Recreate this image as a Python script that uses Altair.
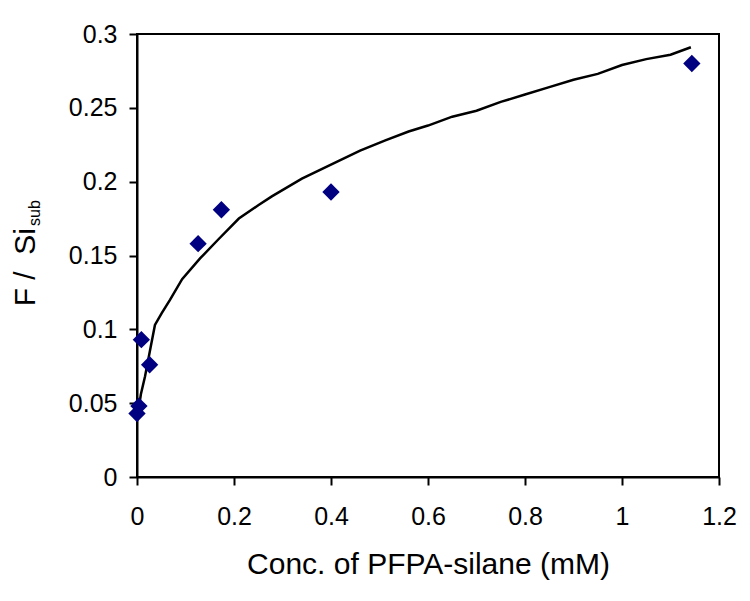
import altair as alt
import pandas as pd

# measured data points
pts_x = [0.0, 0.004, 0.009, 0.026, 0.126, 0.174, 0.40, 1.144]
pts_y = [0.043, 0.048, 0.093, 0.076, 0.158, 0.181, 0.193, 0.280]

# fitted curve
curve_x = [0.002, 0.008, 0.0165, 0.027, 0.037, 0.051, 0.068, 0.093, 0.13, 0.168,
           0.21, 0.25, 0.278, 0.34, 0.416, 0.46, 0.512, 0.56, 0.6, 0.65,
           0.7, 0.75, 0.8, 0.85, 0.9, 0.95, 1.0, 1.05, 1.1, 1.142]
curve_y = [0.043, 0.056, 0.068, 0.086, 0.103, 0.111, 0.120, 0.134, 0.148, 0.161,
           0.175, 0.184, 0.190, 0.202, 0.214, 0.221, 0.228, 0.234, 0.238, 0.244,
           0.248, 0.254, 0.259, 0.264, 0.269, 0.273, 0.279, 0.283, 0.286, 0.291]

x_ticks = [0, 0.2, 0.4, 0.6, 0.8, 1.0, 1.2]
y_ticks = [0, 0.05, 0.1, 0.15, 0.2, 0.25, 0.3]

pts = pd.DataFrame({"x": pts_x, "y": pts_y})
curve = pd.DataFrame({"x": curve_x, "y": curve_y})

FONT = "Liberation Sans"

xenc = alt.X("x:Q", scale=alt.Scale(domain=[0, 1.2], nice=False, zero=False),
             axis=alt.Axis(values=x_ticks, format="~g", title="Conc. of PFPA-silane (mM)",
                           grid=False, domainColor="black", domainWidth=2,
                           tickColor="black", tickWidth=2, tickSize=8,
                           labelFontSize=25, labelPadding=19, labelColor="black",
                           labelFlush=False, labelOverlap=False,
                           labelFont=FONT, titleFont=FONT, titleFontSize=30,
                           titleFontWeight="normal", titleColor="black", titlePadding=20))
yenc = alt.Y("y:Q", scale=alt.Scale(domain=[0, 0.3], nice=False, zero=False),
             axis=alt.Axis(values=y_ticks, format="~g", title=None,
                           grid=False, domainColor="black", domainWidth=2,
                           tickColor="black", tickWidth=2, tickSize=8,
                           labelFontSize=25, labelPadding=12, labelColor="black",
                           labelFlush=False, labelOverlap=False,
                           labelFont=FONT))

line = alt.Chart(curve).mark_line(color="black", strokeWidth=2.5).encode(x=xenc, y=yenc, order="x:Q")
points = alt.Chart(pts).mark_point(shape="diamond", filled=True, color="#000080",
                                   size=300, opacity=1).encode(x="x:Q", y="y:Q")

t1 = alt.Chart(pd.DataFrame({"t": ["F\u00a0/\u00a0\u00a0Si"]})).mark_text(
    angle=270, align="right", baseline="alphabetic", font=FONT, fontSize=30, color="black"
).encode(text="t:N", x=alt.value(-102), y=alt.value(194))
t2 = alt.Chart(pd.DataFrame({"t": ["sub"]})).mark_text(
    angle=270, align="left", baseline="alphabetic", font=FONT, fontSize=16, color="black"
).encode(text="t:N", x=alt.value(-97), y=alt.value(192))

chart = alt.layer(line, points, t1, t2).properties(
    width=582, height=443,
    autosize=alt.AutoSizeParams(type="none"),
    padding={"left": 129, "top": 26, "right": 20, "bottom": 116},
).configure_view(stroke="black", strokeWidth=2)

chart.save("out.html", embed_options={"renderer": "svg", "actions": False})
